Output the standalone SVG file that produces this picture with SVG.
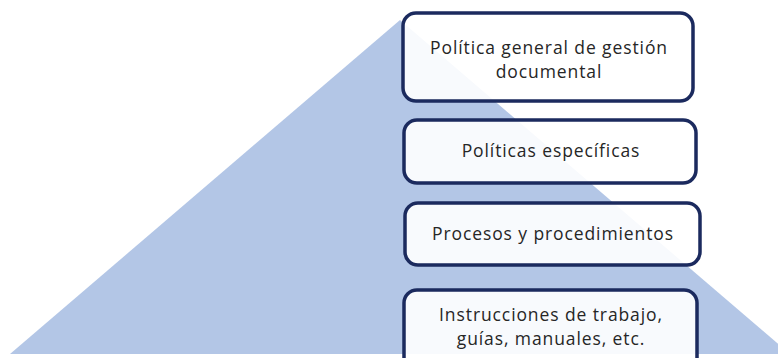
<svg xmlns="http://www.w3.org/2000/svg" width="778" height="358" viewBox="0 0 778 358">
<style>
.box{fill:#ffffff;fill-opacity:0.9;stroke:#1b2a5e;stroke-width:3.5}
.t{font-family:"Open Sans","Liberation Sans",sans-serif;font-size:17.5px;letter-spacing:0.9px;fill:#262626;text-anchor:middle}
</style>
<rect width="778" height="358" fill="#ffffff"/>
<g id="pyramid"><polygon points="400,20 790,354 10,354" fill="#b3c6e6"/></g>
<g id="n1"><rect class="box" x="403" y="13" width="290" height="88" rx="13"/><text class="t" x="549" y="54">Política general de gestión</text><text class="t" x="549" y="78">documental</text></g>
<g id="n2"><rect class="box" x="404" y="120" width="292" height="63" rx="13"/><text class="t" x="551" y="157">Políticas específicas</text></g>
<g id="n3"><rect class="box" x="405" y="203" width="295" height="62" rx="13"/><text class="t" x="553" y="240">Procesos y procedimientos</text></g>
<g id="n4"><rect class="box" x="404" y="290" width="293" height="85" rx="13"/><text class="t" x="551" y="321">Instrucciones de trabajo,</text><text class="t" x="551" y="345">guías, manuales, etc.</text></g>
<g id="connectors"/>
</svg>
